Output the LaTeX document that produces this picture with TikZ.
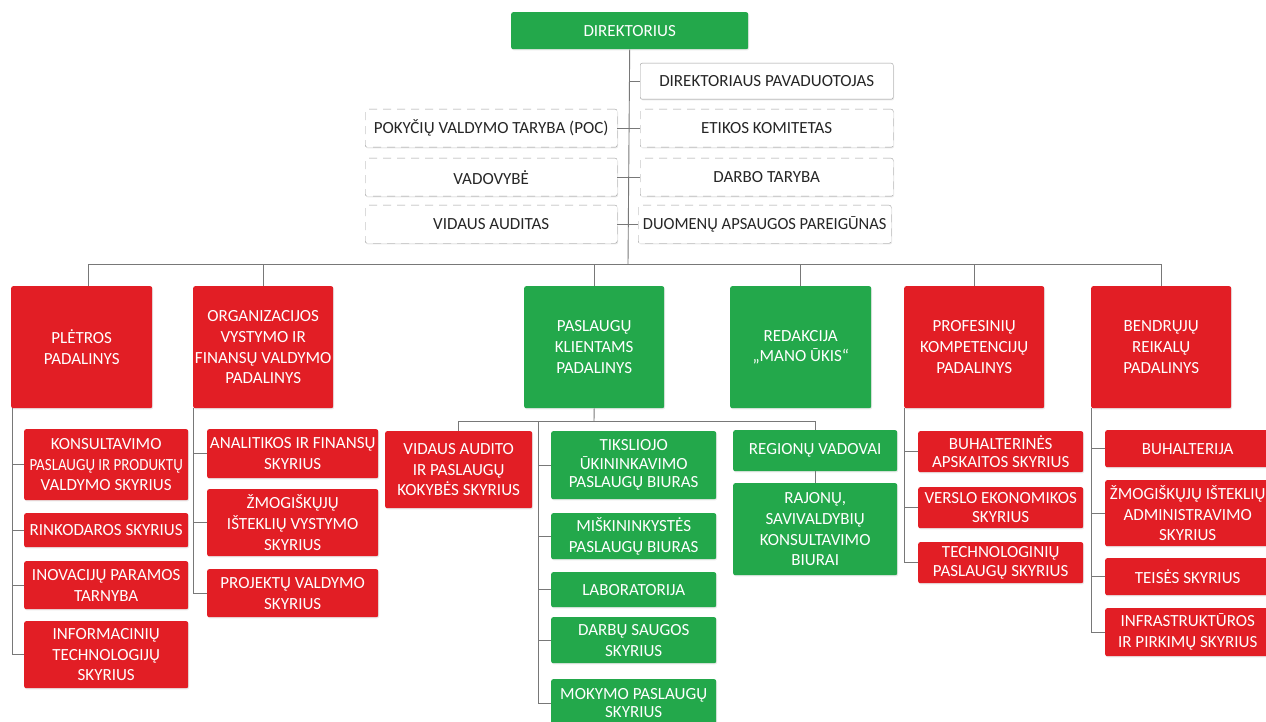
\documentclass[tikz,border=0pt]{standalone}
\usepackage{fontspec}
\setmainfont{Carlito}
\usepackage{tikz}
\usetikzlibrary{positioning,calc,shadows}

\definecolor{unitred}{RGB}{226,30,37}
\definecolor{unitgreen}{RGB}{35,168,75}
\definecolor{linegray}{RGB}{120,120,120}
\definecolor{boxgray}{RGB}{155,155,155}

\begin{document}
\begin{tikzpicture}[x=1pt,y=-1pt,
  base/.style={anchor=north west,rounded corners=2pt,inner sep=0pt,align=center,
    font=\fontsize{17}{20.7}\selectfont,
    drop shadow={shadow xshift=0.8pt,shadow yshift=-1.2pt,opacity=0.18}},
  redbox/.style={base,fill=unitred,text=white},
  greenbox/.style={base,fill=unitgreen,text=white},
  whitebox/.style={base,fill=white,draw=boxgray,text=black!85},
  dashbox/.style={whitebox,dash pattern=on 8pt off 6pt},
  tightlines/.style={font=\fontsize{17}{18.5}\selectfont},
  wh/.style 2 args={minimum width=#1pt,minimum height=#2pt},
  link/.style={draw=linegray,line width=0.9pt}]
\useasboundingbox (0,0) rectangle (1266,722);

% Top management
\node[greenbox,wh={237}{37}] (dir) at (511,12) {DIREKTORIUS};
\node[whitebox,wh={253}{36}] (pav) at (640,63) {DIREKTORIAUS PAVADUOTOJAS};
\node[dashbox,wh={252}{38}] (poc) at (365,109) {POKYČIŲ VALDYMO TARYBA (POC)};
\node[dashbox,wh={253}{38}] (etikos) at (640,109) {ETIKOS KOMITETAS};
\node[dashbox,wh={252}{38}] (vadov) at (365,158) {VADOVYBĖ};
\node[dashbox,wh={253}{38}] (darbo) at (640,158) {DARBO TARYBA};
\node[dashbox,wh={252}{38}] (vidaud) at (365,205) {VIDAUS AUDITAS};
\node[dashbox,wh={253}{38}] (duom) at (638,205) {\scalebox{0.97}[1]{DUOMENŲ APSAUGOS PAREIGŪNAS}};

% Units
\node[redbox,wh={141}{122}] (pletros) at (11,286) {PLĖTROS\\PADALINYS};
\node[redbox,wh={140}{122}] (organiz) at (193,286) {ORGANIZACIJOS\\VYSTYMO IR\\FINANSŲ VALDYMO\\PADALINYS};
\node[greenbox,wh={140}{122}] (paslaug) at (524,286) {PASLAUGŲ\\KLIENTAMS\\PADALINYS};
\node[greenbox,wh={141}{122}] (redakc) at (730,286) {REDAKCIJA\\„MANO ŪKIS“};
\node[redbox,wh={140}{122}] (profes) at (904,286) {PROFESINIŲ\\KOMPETENCIJŲ\\PADALINYS};
\node[redbox,wh={140}{122}] (bendr) at (1091,286) {BENDRŲJŲ\\REIKALŲ\\PADALINYS};

% Pletros padalinys
\node[redbox,wh={164}{71}] (konsult) at (24,429) {KONSULTAVIMO\\\scalebox{0.88}[1]{PASLAUGŲ IR PRODUKTŲ}\\VALDYMO SKYRIUS};
\node[redbox,wh={164}{34}] (rinkod) at (24,513) {RINKODAROS SKYRIUS};
\node[redbox,wh={164}{48}] (inovac) at (24,561) {INOVACIJŲ PARAMOS\\TARNYBA};
\node[redbox,wh={164}{67}] (infotech) at (24,621) {INFORMACINIŲ\\TECHNOLOGIJŲ\\SKYRIUS};

% Organizacijos padalinys
\node[redbox,wh={171}{49}] (analit) at (207,429) {ANALITIKOS IR FINANSŲ\\SKYRIUS};
\node[redbox,wh={171}{67}] (zmogvyst) at (207,489) {ŽMOGIŠKŲJŲ\\IŠTEKLIŲ VYSTYMO\\SKYRIUS};
\node[redbox,wh={171}{48}] (projekt) at (207,569) {PROJEKTŲ VALDYMO\\SKYRIUS};

% Paslaugu klientams padalinys
\node[redbox,wh={147}{77}] (vaudito) at (385,431) {VIDAUS AUDITO\\IR PASLAUGŲ\\KOKYBĖS SKYRIUS};
\node[greenbox,tightlines,wh={165}{68}] (tiksl) at (551,431) {TIKSLIOJO\\ŪKININKAVIMO\\PASLAUGŲ BIURAS};
\node[greenbox,wh={165}{46}] (misk) at (551,513) {MIŠKININKYSTĖS\\PASLAUGŲ BIURAS};
\node[greenbox,wh={165}{35}] (labor) at (551,572) {LABORATORIJA};
\node[greenbox,wh={165}{46}] (darbu) at (551,617) {DARBŲ SAUGOS\\SKYRIUS};
\node[greenbox,tightlines,wh={165}{48}] (mokym) at (551,679) {MOKYMO PASLAUGŲ\\SKYRIUS};
\node[greenbox,wh={164}{41}] (region) at (733,430) {REGIONŲ VADOVAI};
\node[greenbox,wh={164}{92}] (rajonu) at (733,483) {RAJONŲ,\\SAVIVALDYBIŲ\\KONSULTAVIMO\\BIURAI};

% Profesiniu kompetenciju padalinys
\node[redbox,tightlines,wh={165}{41}] (buhapsk) at (918,431) {BUHALTERINĖS\\APSKAITOS SKYRIUS};
\node[redbox,tightlines,wh={165}{41}] (verslo) at (918,487) {VERSLO EKONOMIKOS\\SKYRIUS};
\node[redbox,tightlines,wh={165}{41}] (technol) at (918,542) {TECHNOLOGINIŲ\\PASLAUGŲ SKYRIUS};

% Bendruju reikalu padalinys
\node[redbox,wh={165}{37}] (buhalt) at (1105,430) {BUHALTERIJA};
\node[redbox,wh={165}{66}] (zmogadm) at (1105,480) {ŽMOGIŠKŲJŲ IŠTEKLIŲ\\ADMINISTRAVIMO\\SKYRIUS};
\node[redbox,wh={165}{37}] (teises) at (1105,558) {TEISĖS SKYRIUS};
\node[redbox,wh={165}{48}] (infra) at (1105,608) {INFRASTRUKTŪROS\\IR PIRKIMŲ SKYRIUS};

% Connectors
\coordinate (bus) at (628,264);
\coordinate (pbus) at (594,421);
\coordinate (gspine) at (538,421);
\draw[link] (dir.south) -- (bus);
\draw[link] (dir.south |- pav.west) -- (pav.west);
\draw[link] (poc.east) -- (etikos.west);
\draw[link] (vadov.east) -- (darbo.west);
\draw[link] (vidaud.east) -- (duom.west);
\draw[link] (bus) -| ([xshift=7pt]pletros.north);
\foreach \u in {organiz,paslaug,redakc,profes,bendr}
  \draw[link] (bus) -| (\u.north);
\foreach \c in {konsult,rinkod,inovac,infotech}
  \draw[link] ([xshift=1pt]pletros.south west) |- (\c.west);
\foreach \c in {analit,zmogvyst,projekt}
  \draw[link] (organiz.south west) |- (\c.west);
\draw[link] (paslaug.south) -- (pbus);
\draw[link] (pbus) -| (vaudito.north);
\draw[link] (pbus) -| (region.north);
\foreach \c in {tiksl,misk,labor,darbu,mokym}
  \draw[link] (gspine) |- (\c.west);
\draw[link] (region) -- (rajonu);
\foreach \c in {buhapsk,verslo,technol}
  \draw[link] (profes.south west) |- (\c.west);
\foreach \c in {buhalt,zmogadm,teises,infra}
  \draw[link] (bendr.south west) |- (\c.west);
\end{tikzpicture}
\end{document}
